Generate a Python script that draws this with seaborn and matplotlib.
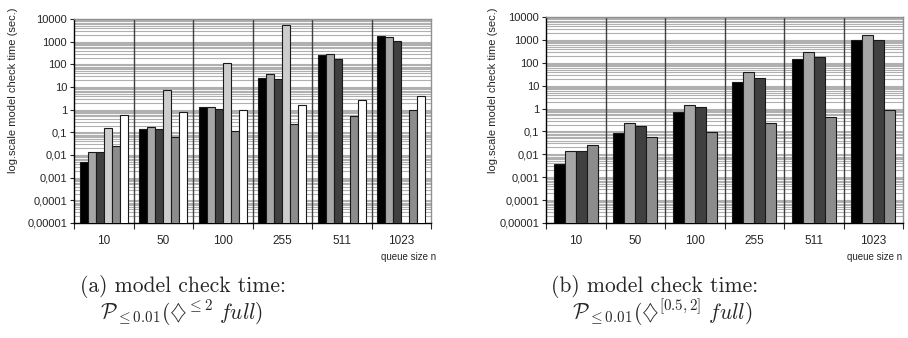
import numpy as np
import pandas as pd
import seaborn as sns
import matplotlib.pyplot as plt
from matplotlib.ticker import LogLocator, NullFormatter

# queue sizes (x categories)
queue_sizes = ["10", "50", "100", "255", "511", "1023"]

# (a) model check time, six series (nan = no bar)
a_s1 = [0.0048, 0.138, 1.29, 24.6, 257, 1830]
a_s2 = [0.013, 0.18, 1.30, 37, 283, 1550]
a_s3 = [0.013, 0.138, 1.05, 21.6, 170, 1070]
a_s4 = [0.16, 7.3, 120, 5430, np.nan, np.nan]
a_s5 = [0.026, 0.063, 0.11, 0.245, 0.51, 0.98]
a_s6 = [0.61, 0.75, 0.95, 1.55, 2.6, 4.2]

# (b) model check time, four series
b_s1 = [0.0037, 0.087, 0.71, 15, 148, 950]
b_s2 = [0.0147, 0.224, 1.48, 39, 290, 1680]
b_s3 = [0.0133, 0.166, 1.17, 22, 177, 1020]
b_s4 = [0.0244, 0.055, 0.093, 0.224, 0.41, 0.87]

ytick_vals = [1e-5, 1e-4, 1e-3, 1e-2, 1e-1, 1, 10, 100, 1000, 10000]
ytick_labels = ["0,00001", "0,0001", "0,001", "0,01", "0,1", "1", "10", "100", "1000", "10000"]

colors_a = ["#000000", "#a6a6a6", "#404040", "#cdcdcd", "#8c8c8c", "#ffffff"]
colors_b = ["#000000", "#a6a6a6", "#404040", "#8c8c8c"]

sns.set_style("white")
plt.rcParams["font.family"] = ["Liberation Sans", "DejaVu Sans"]
plt.rcParams["mathtext.fontset"] = "cm"


def make_long(series):
    rows = []
    for i, vals in enumerate(series):
        for q, v in zip(queue_sizes, vals):
            rows.append({"queue size": q, "series": f"s{i + 1}", "time": v})
    return pd.DataFrame(rows)


def draw(ax, series, colors, width, qx):
    df = make_long(series)
    hue_order = [f"s{i + 1}" for i in range(len(series))]
    sns.barplot(data=df.dropna(), x="queue size", y="time", hue="series",
                order=queue_sizes, hue_order=hue_order, palette=colors,
                width=width, edgecolor="#1a1a1a", linewidth=0.8,
                legend=False, ax=ax, zorder=3)
    ax.set_yscale("log")
    ax.set_ylim(1e-5, 1e4)
    ax.set_yticks(ytick_vals, ytick_labels)
    ax.yaxis.set_minor_locator(LogLocator(base=10, subs=np.arange(2, 10), numticks=30))
    ax.yaxis.set_minor_formatter(NullFormatter())
    ax.grid(which="both", axis="y", color="#b0b0b0", lw=0.8)
    ax.set_axisbelow(True)
    ax.tick_params(axis="y", which="major", length=3, width=0.8, pad=2, labelsize=8, direction="out", left=True)
    ax.tick_params(axis="y", which="minor", length=0)

    ax.set_xlim(-0.5, 5.5)
    ax.set_xticks(range(len(queue_sizes)), queue_sizes)
    ax.set_xticks(np.arange(-0.5, 6, 1), minor=True)
    ax.tick_params(axis="x", which="major", length=0, pad=9, labelsize=8.5)
    ax.tick_params(axis="x", which="minor", length=4, width=0.8, direction="out", bottom=True)
    for b in np.arange(0.5, 5, 1):
        ax.axvline(b, color="#404040", lw=1, zorder=2)

    for side in ["left", "bottom"]:
        ax.spines[side].set_color("black")
        ax.spines[side].set_linewidth(1)
    for side in ["top", "right"]:
        ax.spines[side].set_color("#909090")
        ax.spines[side].set_linewidth(1)

    ax.set_xlabel("")
    ax.set_ylabel("log.scale model check time (sec.)", fontsize=8)
    ax.text(qx, -0.167, "queue size n", transform=ax.transAxes,
            ha="right", va="center", fontsize=7)


fig = plt.figure(figsize=(9.08, 3.38), dpi=100)
ax1 = fig.add_axes([74 / 908, 1 - 223 / 338, 357 / 908, 204 / 338])
ax2 = fig.add_axes([546 / 908, 1 - 223 / 338, 357 / 908, 206 / 338])

draw(ax1, [a_s1, a_s2, a_s3, a_s4, a_s5, a_s6], colors_a, 0.8, 1.015)
draw(ax2, [b_s1, b_s2, b_s3, b_s4], colors_b, 0.74, 0.998)
ax1.yaxis.set_label_coords(-0.157, 0.65)
ax2.yaxis.set_label_coords(-0.134, 0.645)

# captions
cap = dict(fontsize=15.5, ha="left", va="baseline")
fig.text(80 / 908, 1 - 292 / 338, "(a) model check time:", family="cmr10", **cap)
fig.text(100 / 908, 1 - 319 / 338, r"$\mathcal{P}_{\leq 0.01}(\diamondsuit^{\leq 2}\ \mathit{full})$", **cap)
fig.text(551 / 908, 1 - 292 / 338, "(b) model check time:", family="cmr10", **cap)
fig.text(572 / 908, 1 - 319 / 338, r"$\mathcal{P}_{\leq 0.01}(\diamondsuit^{[0.5,2]}\ \mathit{full})$", **cap)

fig.savefig("out.png", dpi=100)
